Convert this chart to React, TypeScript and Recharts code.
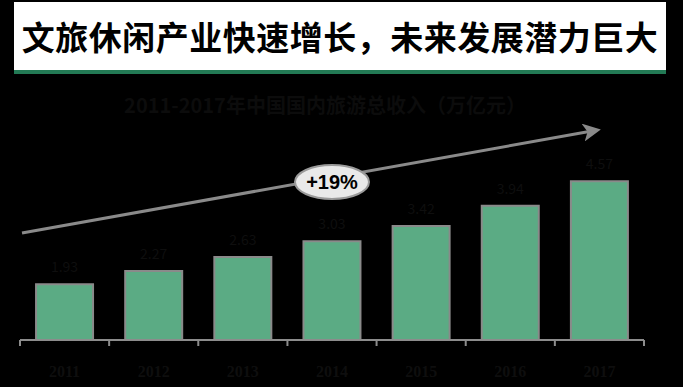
import { BarChart, Bar, XAxis, YAxis, LabelList } from 'recharts';

const years = ['2011', '2012', '2013', '2014', '2015', '2016', '2017'];
const revenue = [1.93, 2.27, 2.63, 3.03, 3.42, 3.94, 4.57];

const title = '文旅休闲产业快速增长，未来发展潜力巨大';
const subtitle = '2011-2017年中国国内旅游总收入（万亿元）';
const growth = '+19%';

const data = years.map((y, i) => ({ year: y, value: revenue[i] }));

const FONT = '"Noto Sans CJK SC", "Noto Sans", sans-serif';
const CHART_W = 683;
const MARGIN = { top: 145, right: 39, bottom: 7, left: 20 };
const BAND = (CHART_W - MARGIN.left - MARGIN.right) / years.length;

// year label plus tick marks on the category boundaries
function YearTick(props: any) {
  const { x, y, payload, index } = props;
  const half = BAND / 2;
  return (
    <g>
      <line x1={x - half} y1={y} x2={x - half} y2={y + 6} stroke="#8c8c8c" strokeWidth={2} />
      {index === years.length - 1 && (
        <line x1={x + half} y1={y} x2={x + half} y2={y + 6} stroke="#8c8c8c" strokeWidth={2} />
      )}
      <text
        x={x}
        y={y + 37}
        textAnchor="middle"
        fill="#0e0e0e"
        fontSize={16}
        fontWeight={700}
        fontFamily="Liberation Serif"
      >
        {payload.value}
      </text>
    </g>
  );
}

export default function App() {
  return (
    <div
      style={{
        position: 'absolute',
        left: 0,
        top: 0,
        width: 683,
        height: 387,
        background: '#000',
        overflow: 'hidden',
        fontFamily: FONT,
      }}
    >
      {/* title banner */}
      <div
        style={{
          position: 'absolute',
          left: 14,
          top: 2,
          width: 652,
          height: 68,
          background: '#fff',
          borderBottom: '4px solid #237a55',
          display: 'flex',
          alignItems: 'center',
          justifyContent: 'center',
          fontSize: 33,
          fontWeight: 700,
          color: '#000',
          letterSpacing: 0.5,
        }}
      >
        {title}
      </div>

      <div
        style={{
          position: 'absolute',
          left: 0,
          top: 90,
          width: 650,
          textAlign: 'center',
          fontSize: 20,
          fontWeight: 700,
          color: '#0c0c0c',
        }}
      >
        {subtitle}
      </div>

      <div style={{ position: 'absolute', left: 0, top: 0 }}>
        <BarChart
          width={CHART_W}
          height={387}
          data={data}
          margin={MARGIN}
          barCategoryGap="18%"
        >
          <XAxis
            dataKey="year"
            height={40}
            tickSize={0}
            tickMargin={0}
            tickLine={false}
            axisLine={{ stroke: '#8c8c8c', strokeWidth: 2 }}
            tick={<YearTick />}
            interval={0}
          />
          <YAxis hide domain={[0.5, 5.5]} allowDataOverflow />
          <Bar
            dataKey="value"
            fill="#5bab84"
            stroke="#8a8a8a"
            strokeWidth={2}
            isAnimationActive={false}
          >
            <LabelList
              dataKey="value"
              position="top"
              offset={12}
              fill="#0e0e0e"
              fontSize={14}
            />
          </Bar>
        </BarChart>
      </div>

      {/* growth arrow */}
      <svg
        width={683}
        height={387}
        style={{ position: 'absolute', left: 0, top: 0, pointerEvents: 'none' }}
      >
        <defs>
          <marker id="arrowHead" markerWidth="6" markerHeight="6" refX="3" refY="3" orient="auto">
            <path d="M0,0 L6,3 L0,6 L1.5,3 Z" fill="#8a8a8a" />
          </marker>
        </defs>
        <line
          x1={22}
          y1={233}
          x2={592}
          y2={131}
          stroke="#8a8a8a"
          strokeWidth={3}
          markerEnd="url(#arrowHead)"
        />
        <ellipse cx={332} cy={182} rx={37} ry={17} fill="#e9e9e9" stroke="#9a9a9a" strokeWidth={2} />
        <text
          x={332}
          y={189}
          textAnchor="middle"
          fontSize={20}
          fontWeight={700}
          fontFamily="Liberation Sans, Arial, sans-serif"
          fill="#000"
        >
          {growth}
        </text>
      </svg>
    </div>
  );
}
